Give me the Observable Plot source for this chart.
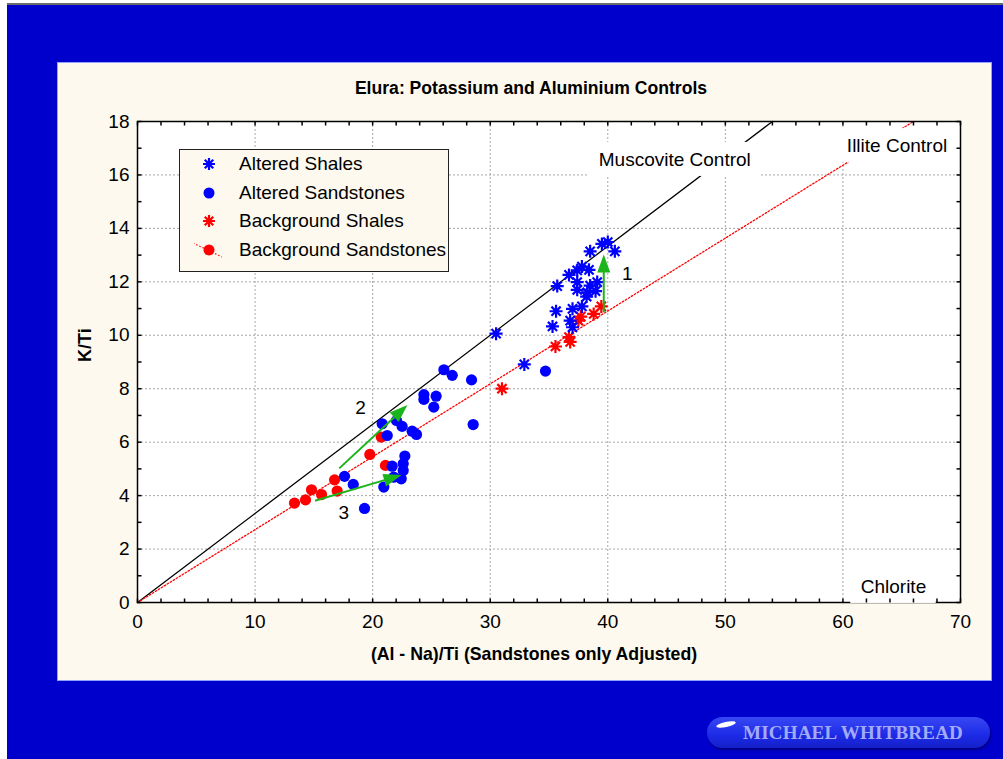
<!DOCTYPE html>
<html><head><meta charset="utf-8">
<script src="https://cdn.jsdelivr.net/npm/d3@7"></script>
<script src="https://cdn.jsdelivr.net/npm/@observablehq/plot@0.6"></script>
<style>
html,body{margin:0;padding:0;background:#fff;width:1003px;height:759px;overflow:hidden;font-family:"Liberation Sans",Arial,sans-serif}
#topline{position:absolute;left:7px;top:3px;width:996px;height:2px;background:#6a6a6a}
#bg{position:absolute;left:7px;top:5px;width:996px;height:754px;background:#0000cc}
#panel{position:absolute;left:57px;top:62px;width:935px;height:619px;background:#fdf9ee;border:1px solid #8ea2ff;box-sizing:border-box}
#title{position:absolute;left:0;width:1062px;top:78px;line-height:20px;text-align:center;font-weight:bold;font-size:17.6px;color:#000}
#chart{position:absolute;left:0;top:0}
#legend{position:absolute;left:179px;top:149px;width:270px;height:123px;box-sizing:border-box;border:1.5px solid #222;background:#fdf9ee}
.row{position:absolute;left:0;height:28px;line-height:28px;font-size:19px;color:#000;white-space:nowrap}
.row svg{position:absolute;left:14px;top:0}
.row span{position:absolute;left:59px;top:0}
#logo{position:absolute;left:707px;top:717px;width:283px;height:31px;border-radius:16px;background:linear-gradient(#3848f4,#1c2ae6 60%,#1420c8);box-shadow:1px 2px 2px rgba(0,0,60,0.5)}
#logo span{position:absolute;left:36px;top:0;line-height:31px;font-family:"Liberation Serif","Times New Roman",serif;font-weight:bold;font-size:19px;color:#a3aaf6;letter-spacing:0.2px}
#logo i{position:absolute;left:9px;top:5px;width:20px;height:5px;border-radius:50%;background:#fff;transform:rotate(-12deg)}
</style></head>
<body>
<div id="topline"></div>
<div id="bg"></div>
<div id="panel"></div>
<div id="title">Elura: Potassium and Aluminium Controls</div>
<div id="chart"></div>
<div id="legend"></div>
<div id="logo"><i></i><span>MICHAEL WHITBREAD</span></div>
<script>
// ---------- data ----------
const alteredShales = [
  [30.5,10.06],[32.9,8.91],[35.3,10.33],[35.6,10.9],[35.7,11.84],[36.7,12.26],[37.4,12.43],[37.8,12.57],
  [38.4,12.45],[38.5,13.14],[39.5,13.42],[40.0,13.49],[40.6,13.14],[37.4,11.99],[37.4,11.7],[38.25,11.61],
  [39.1,11.99],[38.96,11.65],[38.5,11.86],[38.2,11.45],[37.0,10.99],[37.8,11.08],[36.8,10.55],[37.0,10.3]
];
const alteredSandstones = [
  [26.06,8.71],[26.77,8.5],[28.41,8.33],[24.36,7.78],[24.36,7.6],[25.4,7.72],[25.2,7.31],[28.55,6.66],
  [20.81,6.69],[22.03,6.81],[22.51,6.59],[23.36,6.41],[23.73,6.29],[21.24,6.25],[22.74,5.48],[22.6,5.19],
  [22.6,4.94],[21.66,5.1],[21.8,4.69],[22.43,4.63],[20.95,4.32],[17.61,4.72],[18.35,4.42],[19.31,3.52],[34.7,8.66]
];
const backgroundShales = [
  [31.0,8.0],[35.55,9.58],[36.7,9.93],[36.8,9.75],[37.5,10.55],[37.7,10.7],[38.8,10.8],[39.45,11.08]
];
const backgroundSandstones = [
  [13.35,3.72],[14.29,3.84],[14.8,4.22],[15.65,4.04],[16.76,4.59],[16.98,4.17],[19.76,5.54],[20.73,6.19],[21.09,5.13]
];
const muscoviteControl = [[0,0],[54,18]];
const illiteControl = [[0,0],[66,18]];
const arrows = [
  {x1:39.7, y1:10.84, x2:39.7, y2:13.0},
  {x1:17.2, y1:5.0, x2:23.0, y2:7.37},
  {x1:15.14, y1:3.79, x2:22.5, y2:4.75}
];
const controlLabels = [
  {text:"Muscovite Control", x:45.7, y:16.58},
  {text:"Illite Control", x:64.6, y:17.1},
  {text:"Chlorite", x:64.3, y:0.6}
];
const numberLabels = [
  {text:"1", x:41.65, y:12.3},
  {text:"2", x:18.97, y:7.29},
  {text:"3", x:17.55, y:3.34}
];
const xTicks = [0,10,20,30,40,50,60,70];
const yTicks = [0,2,4,6,8,10,12,14,16,18];
const xGrid = [10,20,30,40,50,60];
const yGrid = [2,4,6,8,10,12,14,16];
const xMinor = [0,2,4,6,8,10,12,14,16,18,20,22,24,26,28,30,32,34,36,38,40,42,44,46,48,50,52,54,56,58,60,62,64,66,68,70];
const yMinor = [0,1,2,3,4,5,6,7,8,9,10,11,12,13,14,15,16,17,18];
const legendItems = ["Altered Shales","Altered Sandstones","Background Shales","Background Sandstones"];

// ---------- styles ----------
const BLUE = "#0000ff", RED = "#ff0000", GREEN = "#1cb41c";
const asterisk = {draw(ctx, size){
  const r = Math.sqrt(size/Math.PI), d = r*Math.SQRT1_2;
  ctx.moveTo(-r,0); ctx.lineTo(r,0); ctx.moveTo(0,-r); ctx.lineTo(0,r);
  ctx.moveTo(-d,-d); ctx.lineTo(d,d); ctx.moveTo(-d,d); ctx.lineTo(d,-d);
}};
const tickSym = (dx, dy) => ({draw(ctx){ ctx.moveTo(0,0); ctx.lineTo(dx,dy); }});
const mctx = document.createElement("canvas").getContext("2d");
mctx.font = "19px 'Liberation Sans'";

function labelBoxes(index, scales) {
  const g = d3.create("svg:g");
  for (const d of controlLabels) {
    const w = mctx.measureText(d.text).width + 20, h = 34;
    g.append("rect").attr("x", scales.x(d.x) - w/2).attr("y", scales.y(d.y) - h/2)
      .attr("width", w).attr("height", h).attr("fill", "white");
  }
  return g.node();
}
function arrowMark(index, scales) {
  const g = d3.create("svg:g");
  for (const a of arrows) {
    const x1 = scales.x(a.x1), y1 = scales.y(a.y1), x2 = scales.x(a.x2), y2 = scales.y(a.y2);
    const L = Math.hypot(x2-x1, y2-y1), ux = (x2-x1)/L, uy = (y2-y1)/L;
    const hl = 18, hw = 6.5, bx = x2 - ux*hl, by = y2 - uy*hl;
    g.append("line").attr("x1", x1).attr("y1", y1).attr("x2", bx + ux*2).attr("y2", by + uy*2)
      .attr("stroke", GREEN).attr("stroke-width", 2);
    g.append("path").attr("d", `M${x2},${y2}L${bx - uy*hw},${by + ux*hw}L${bx + uy*hw},${by - ux*hw}Z`)
      .attr("fill", GREEN);
  }
  return g.node();
}

const plot = Plot.plot({
  width: 1003, height: 759,
  marginLeft: 137, marginRight: 43, marginTop: 121, marginBottom: 157,
  style: {background: "transparent", fontFamily: "'Liberation Sans', Arial, sans-serif", fontSize: "19px", color: "#000", overflow: "visible"},
  x: {domain: [0,70], ticks: xTicks, tickSize: 0, tickPadding: 12, label: null},
  y: {domain: [0,18], ticks: yTicks, tickSize: 0, tickPadding: 8, label: null},
  marks: [
    Plot.frame({fill: "white"}),
    Plot.ruleX(xGrid, {stroke: "#a6a6a6", strokeDasharray: "2,2", strokeWidth: 1}),
    Plot.ruleY(yGrid, {stroke: "#a6a6a6", strokeDasharray: "2,2", strokeWidth: 1}),
    Plot.line(muscoviteControl, {x: d => d[0], y: d => d[1], stroke: "black", strokeWidth: 1.3}),
    Plot.line(illiteControl, {x: d => d[0], y: d => d[1], stroke: RED, strokeWidth: 1.3, strokeDasharray: "1.5,2"}),
    Plot.frame({stroke: "black", strokeWidth: 1.5}),
    labelBoxes,
    Plot.text(controlLabels, {x: "x", y: "y", text: "text", fontSize: 19, fill: "black"}),
    Plot.text(numberLabels, {x: "x", y: "y", text: "text", fontSize: 19, fill: "black"}),
    Plot.dot(backgroundSandstones, {x: d => d[0], y: d => d[1], r: 5.6, fill: RED, stroke: "none"}),
    Plot.dot(alteredSandstones, {x: d => d[0], y: d => d[1], r: 5.6, fill: BLUE, stroke: "none"}),
    Plot.dot(backgroundShales, {x: d => d[0], y: d => d[1], r: 6.5, symbol: asterisk, fill: "none", stroke: RED, strokeWidth: 2.2}),
    Plot.dot(alteredShales, {x: d => d[0], y: d => d[1], r: 6.5, symbol: asterisk, fill: "none", stroke: BLUE, strokeWidth: 2.2}),
    arrowMark,
    Plot.dot(xMinor, {x: d => d, y: 0, r: 4, symbol: tickSym(0,-4), fill: "none", stroke: "black"}),
    Plot.dot(xMinor, {x: d => d, y: 18, r: 4, symbol: tickSym(0,4), fill: "none", stroke: "black"}),
    Plot.dot(yMinor, {x: 0, y: d => d, r: 4, symbol: tickSym(4,0), fill: "none", stroke: "black"}),
    Plot.dot(yMinor, {x: 70, y: d => d, r: 4, symbol: tickSym(-4,0), fill: "none", stroke: "black"}),
    Plot.text(["K/Ti"], {text: d => d, frameAnchor: "left", dx: -52, rotate: -90, fontWeight: "bold", fontSize: 18, fill: "black"}),
    Plot.text(["(Al - Na)/Ti (Sandstones only Adjusted)"], {text: d => d, frameAnchor: "bottom", dx: -15, dy: 57, fontWeight: "bold", fontSize: 17.7, fill: "black"})
  ]
});
document.getElementById("chart").appendChild(plot);

// ---------- legend ----------
const legend = d3.select("#legend");
const rowTops = [0, 28.7, 57.4, 86.1];
legendItems.forEach((name, i) => {
  const row = legend.append("div").attr("class", "row").style("top", (rowTops[i] + 0) + "px");
  const svg = row.append("svg").attr("width", 34).attr("height", 28);
  const cx = 15, cy = 14;
  if (i === 0 || i === 2) {
    const r = 6, d = r*Math.SQRT1_2, col = i === 0 ? BLUE : RED;
    svg.append("path").attr("d", `M${cx-r},${cy}L${cx+r},${cy}M${cx},${cy-r}L${cx},${cy+r}M${cx-d},${cy-d}L${cx+d},${cy+d}M${cx-d},${cy+d}L${cx+d},${cy-d}`)
      .attr("stroke", col).attr("stroke-width", 2.2).attr("fill", "none");
  } else if (i === 1) {
    svg.append("circle").attr("cx", cx).attr("cy", cy).attr("r", 5.5).attr("fill", BLUE);
  } else {
    svg.append("line").attr("x1", cx-16).attr("y1", cy-7).attr("x2", cx+13).attr("y2", cy+7)
      .attr("stroke", RED).attr("stroke-width", 1.2).attr("stroke-dasharray", "1.5,2");
    svg.append("circle").attr("cx", cx).attr("cy", cy).attr("r", 5.5).attr("fill", RED);
  }
  row.append("span").text(name);
});
</script>
</body></html>
